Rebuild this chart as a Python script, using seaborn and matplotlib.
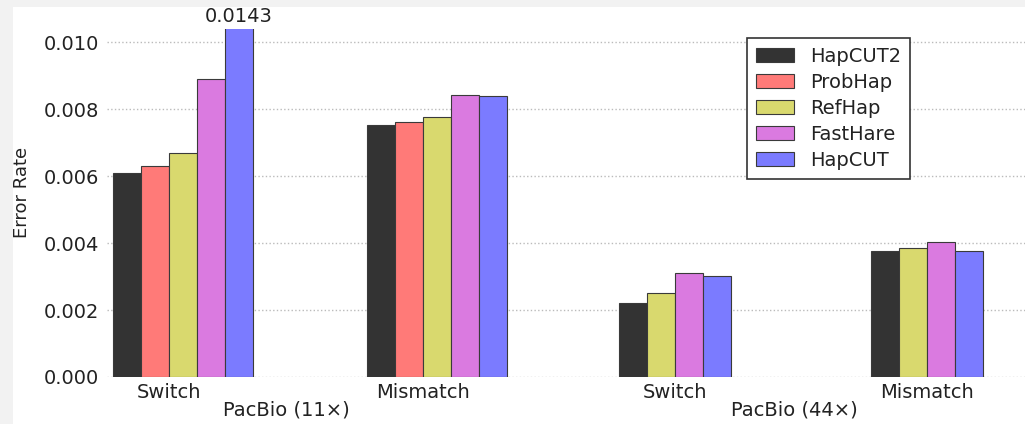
import numpy as np
import pandas as pd
import matplotlib
matplotlib.use("Agg")
import matplotlib.pyplot as plt
import matplotlib.transforms as mtransforms
from matplotlib.patches import Patch, Rectangle
import seaborn as sns

# ---- data ----
methods = ["HapCUT2", "ProbHap", "RefHap", "FastHare", "HapCUT"]
groups = ["Switch", "Mismatch", "Switch", "Mismatch"]
datasets = ["PacBio (11\u00d7)", "PacBio (44\u00d7)"]
hapcut2 = [0.0061, 0.00754, 0.0022, 0.00378]
probhap = [0.0063, 0.00763, np.nan, np.nan]
refhap = [0.0067, 0.00778, 0.00252, 0.00385]
fasthare = [0.0089, 0.00844, 0.00311, 0.00403]
hapcut = [0.0143, 0.00839, 0.00302, 0.00378]
series = [hapcut2, probhap, refhap, fasthare, hapcut]
yticks = [0.000, 0.002, 0.004, 0.006, 0.008, 0.010]

# ---- layout ----
colors = ["#333333", "#ff7a78", "#d9d96e", "#da7ae0", "#7b7bff"]
group_centers = [0.0, 9.07, 17.57, 26.57]
tick_shift = [-0.5, -0.5, 0.0, 0.0]

rows = []
for g in range(len(groups)):
    present = [m for m in range(len(methods)) if not np.isnan(series[m][g])]
    n = len(present)
    for k, m in enumerate(present):
        rows.append({"pos": group_centers[g] + k - (n - 1) / 2,
                     "value": series[m][g], "method": methods[m]})
df = pd.DataFrame(rows)

sns.set_style("white")
plt.rcParams["font.family"] = ["DejaVu Sans"]

fig = plt.figure(figsize=(10.25, 4.24), dpi=100)
fig.patch.set_facecolor("#f2f2f2")
fig.patches.append(Rectangle((13 / 1025, 0), 1, 1 - 7 / 424, transform=fig.transFigure,
                             facecolor="white", edgecolor="none", zorder=-10))
ax = fig.add_axes([107 / 1025, 1 - 377 / 424, 1 - 107 / 1025, (377 - 29) / 424])
ax.set_facecolor("white")

sns.barplot(data=df, x="pos", y="value", hue="method", hue_order=methods,
            palette=dict(zip(methods, colors)), native_scale=True, dodge=False,
            width=1.0, errorbar=None, saturation=1, edgecolor="#3a3a3a",
            linewidth=0.8, legend=False, ax=ax, zorder=3)

ax.set_ylim(0, 0.0104)
ax.set_xlim(-2.71, 30.07)
ax.set_yticks(yticks)
ax.set_yticklabels([f"{t:.3f}" for t in yticks])
ax.set_xticks([c + s for c, s in zip(group_centers, tick_shift)])
ax.set_xticklabels(groups)
ax.tick_params(axis="both", length=0, labelsize=14, colors="#222222")
ax.tick_params(axis="y", pad=6)
ax.tick_params(axis="x", pad=4)
ax.set_xlabel("")
ax.set_ylabel("Error Rate", fontsize=13, color="#222222")
ax.yaxis.set_label_coords(-0.083, 0.53)
ax.grid(axis="y", linestyle=":", color="#bbbbbb", linewidth=1.0, zorder=0)
ax.grid(axis="x", visible=False)
for s in ax.spines.values():
    s.set_visible(False)

# clipped bar annotation
blue_x = group_centers[0] + 2
ax.annotate(f"{hapcut[0]:.4f}", xy=(blue_x, 1.0), xycoords=("data", "axes fraction"),
            xytext=(0, 2.5), textcoords="offset points", ha="center", va="bottom",
            fontsize=14, color="#222222")

# dataset labels
blend = mtransforms.blended_transform_factory(ax.transData, fig.transFigure)
for x, lab in zip([3.7, 21.85], datasets):
    ax.text(x, 1 - 410 / 424, lab, transform=blend,
            ha="center", va="center", fontsize=14, color="#222222")

handles = [Patch(facecolor=c, edgecolor="#3a3a3a", linewidth=0.8, label=m)
           for m, c in zip(methods, colors)]
leg = ax.legend(handles=handles, loc="upper left", bbox_to_anchor=(0.697, 0.974),
                fontsize=14, frameon=True, fancybox=False, framealpha=1,
                edgecolor="#333333", handlelength=2.0, handleheight=0.8,
                handletextpad=0.8, labelspacing=0.36, borderpad=0.45,
                borderaxespad=0)
leg.get_frame().set_linewidth(1.2)
for t in leg.get_texts():
    t.set_color("#222222")

fig.savefig("out.png", dpi=100, facecolor=fig.get_facecolor())
